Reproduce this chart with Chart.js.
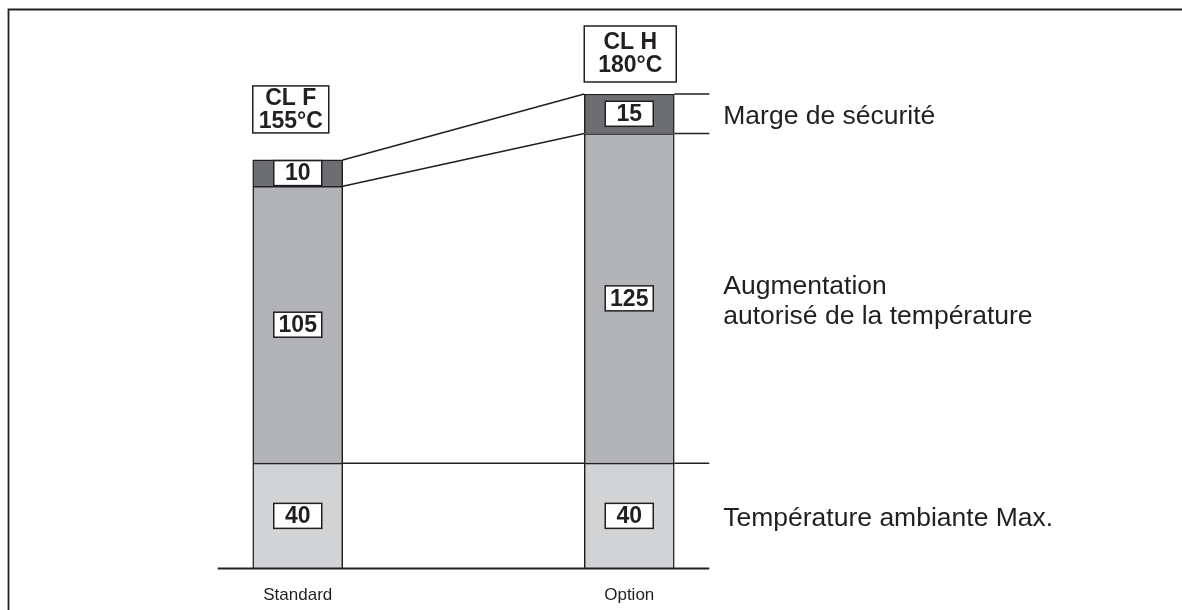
<!DOCTYPE html>
<html>
<head>
<meta charset="utf-8">
<script src="https://cdn.jsdelivr.net/npm/chart.js@4"></script>
<style>
  body { margin: 0; background: #fff; }
  canvas { display: block; }
</style>
</head>
<body>
<canvas id="myChart" width="1182" height="610"></canvas>
<script>
// temperature build-up per insulation class (°C)
var categories = ['Standard', 'Option'];
var ambient = [40, 40];
var rise = [105, 125];
var margin = [10, 15];
var classLabels = [['CL F', '155°C'], ['CL H', '180°C']];
var seriesLabels = [
    ['Température ambiante Max.'],
    ['Augmentation', 'autorisé de la température'],
    ['Marge de sécurité']
];
var yMax = 180;

var ink = '#231f20';
var fontFamily = '"Liberation Sans", Arial, Helvetica, sans-serif';

var diagramPlugin = {
    id: 'diagram',
    afterDatasetsDraw: function (chart) {
        var c = chart.ctx;
        var yScale = chart.scales.y;
        var std = [0, 1, 2].map(function (i) { return chart.getDatasetMeta(i).data[0]; });
        var opt = [0, 1, 2].map(function (i) { return chart.getDatasetMeta(i).data[1]; });
        var half = std[0].width / 2;
        var stdRight = std[0].x + half;
        var optLeft = opt[0].x - half;
        var optRight = opt[0].x + half;
        var left = std[0].x - 80;
        var right = opt[0].x + 80;

        function line(x1, y1, x2, y2, w) {
            c.beginPath();
            c.lineWidth = w || 1.5;
            c.moveTo(x1, y1);
            c.lineTo(x2, y2);
            c.stroke();
        }

        c.save();
        c.strokeStyle = ink;

        // ground line
        var y0 = yScale.getPixelForValue(0);
        line(left, y0, right, y0, 2);

        // ambient limit across both bars
        line(stdRight, std[0].y, optLeft, opt[0].y);
        line(optRight, opt[0].y, right, opt[0].y);

        // connectors between the two stacks, then stubs to the right
        for (var i = 1; i < 3; i++) {
            line(stdRight, std[i].y, optLeft, opt[i].y);
            line(optRight, opt[i].y, right, opt[i].y);
        }

        // value boxes in every segment
        c.font = 'bold 23px ' + fontFamily;
        c.textAlign = 'center';
        c.textBaseline = 'middle';
        chart.data.datasets.forEach(function (ds, di) {
            chart.getDatasetMeta(di).data.forEach(function (el, j) {
                var cy = (el.y + el.base) / 2;
                c.fillStyle = '#fff';
                c.fillRect(el.x - 24, cy - 12.5, 48, 25);
                c.lineWidth = 1.5;
                c.strokeRect(el.x - 24, cy - 12.5, 48, 25);
                c.fillStyle = ink;
                c.fillText(String(ds.data[j]), el.x, cy + 1);
            });
        });

        // insulation class boxes above each stack
        var boxes = [
            { dx: -45, w: 76, gap: 27, h: 47 },
            { dx: -45, w: 92, gap: 12, h: 56 }
        ];
        [std[2], opt[2]].forEach(function (el, j) {
            var b = boxes[j];
            var bx = el.x + b.dx;
            var by = el.y - b.gap - b.h;
            c.fillStyle = '#fff';
            c.fillRect(bx, by, b.w, b.h);
            c.lineWidth = 1.5;
            c.strokeRect(bx, by, b.w, b.h);
            c.fillStyle = ink;
            var cx = bx + b.w / 2;
            var cy = by + b.h / 2;
            c.fillText(classLabels[j][0], cx, cy - 11);
            c.fillText(classLabels[j][1], cx, cy + 12);
        });

        // series names to the right of the Option stack
        c.font = '26.5px ' + fontFamily;
        c.textAlign = 'left';
        c.fillStyle = ink;
        opt.forEach(function (el, i) {
            var lines = seriesLabels[i];
            var cy = (el.y + el.base) / 2;
            lines.forEach(function (t, k) {
                c.fillText(t, optRight + 49, cy + 3 + (k - (lines.length - 1) / 2) * 30);
            });
        });
        c.restore();
    },
    afterDraw: function (chart) {
        // frame: top and left edges only
        var c = chart.ctx;
        c.save();
        c.strokeStyle = ink;
        c.lineWidth = 1.8;
        c.beginPath();
        c.moveTo(8.5, 610);
        c.lineTo(8.5, 9.5);
        c.lineTo(1182, 9.5);
        c.stroke();
        c.restore();
    }
};

var ctx = document.getElementById('myChart').getContext('2d');

var myChart = new Chart(ctx, {
    type: 'bar',
    data: {
        labels: categories,
        datasets: [{
            label: seriesLabels[0].join(' '),
            data: ambient,
            backgroundColor: '#d1d3d4'
        },
        {
            label: seriesLabels[1].join(' '),
            data: rise,
            backgroundColor: '#b1b3b6'
        },
        {
            label: seriesLabels[2].join(' '),
            data: margin,
            backgroundColor: '#6d6e71'
        }]
    },
    options: {
        responsive: false,
        animation: false,
        events: [],
        layout: {
            padding: { left: 132, right: 387, top: 94, bottom: -13 }
        },
        datasets: {
            bar: {
                barThickness: 90,
                borderWidth: 1.5,
                borderColor: ink
            }
        },
        plugins: {
            legend: { display: false },
            tooltip: { enabled: false }
        },
        scales: {
            x: {
                stacked: true,
                grid: { display: false, drawTicks: false },
                border: { display: false },
                ticks: {
                    color: ink,
                    padding: 17,
                    font: { family: fontFamily, size: 17 }
                }
            },
            y: {
                stacked: true,
                display: false,
                min: 0,
                max: yMax
            }
        }
    },
    plugins: [diagramPlugin]
});
</script>
</body>
</html>
